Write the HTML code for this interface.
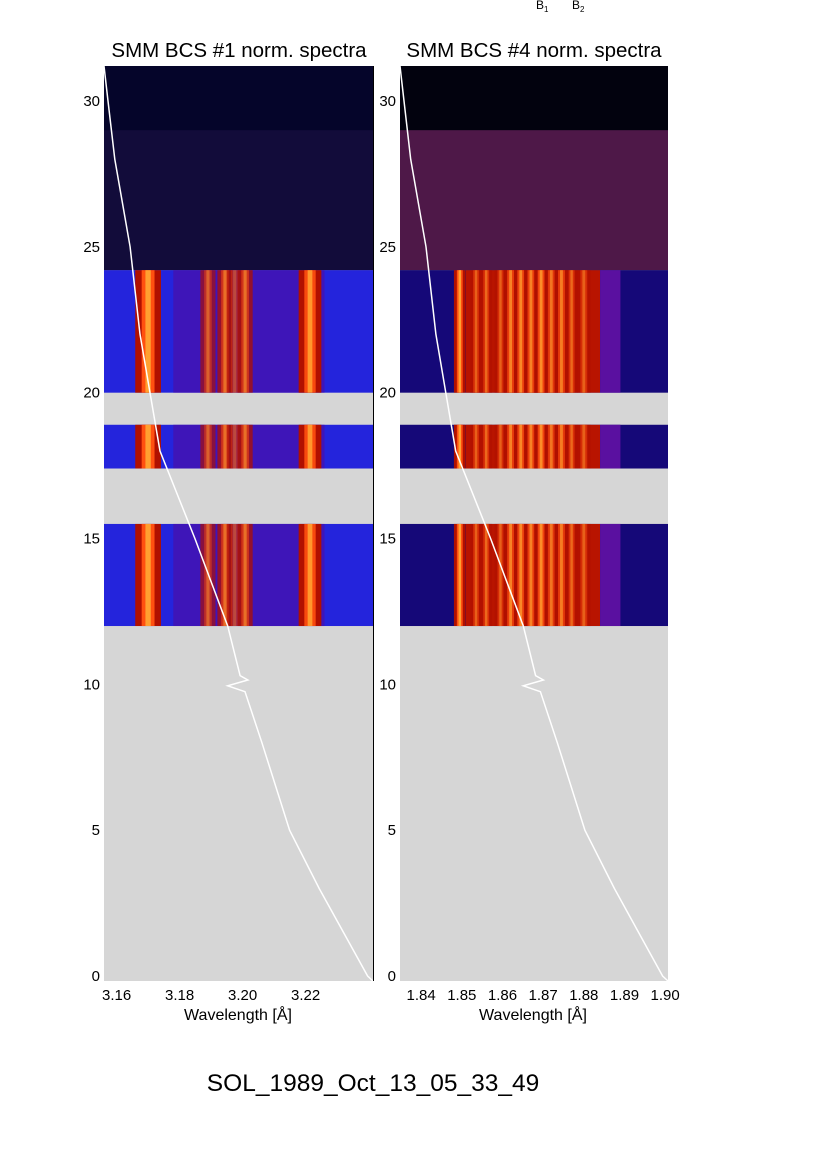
<!DOCTYPE html>
<html><head><meta charset="utf-8"><style>
html,body{margin:0;padding:0;background:#fff;}
svg{display:block;font-family:"Liberation Sans",sans-serif;}
</style></head><body>
<svg id="fig" width="826" height="1169" viewBox="0 0 826 1169" xmlns="http://www.w3.org/2000/svg">
<text x="536" y="9" font-size="12">B<tspan font-size="8" dy="3">1</tspan></text>
<text x="572" y="9" font-size="12">B<tspan font-size="8" dy="3">2</tspan></text>
<text x="239" y="57" font-size="20.5" text-anchor="middle">SMM BCS #1 norm. spectra</text>
<text x="534" y="57" font-size="20.5" text-anchor="middle">SMM BCS #4 norm. spectra</text>
<g id="left"></g>
<g id="right"></g>
<line x1="373.5" y1="66" x2="373.5" y2="981" stroke="#000" stroke-width="1"/>
<text x="238" y="1020" font-size="16" text-anchor="middle">Wavelength [Å]</text>
<text x="533" y="1020" font-size="16" text-anchor="middle">Wavelength [Å]</text>
<text x="373" y="1091" font-size="24.5" text-anchor="middle">SOL_1989_Oct_13_05_33_49</text>
</svg>
<script>
// Y axis (time) data
const yTicks = [0, 5, 10, 15, 20, 25, 30];
const yMin = -0.17, yMax = 31.2;
// Observed data bands [start, end] in y units
const bandStarts = [12.0, 17.4, 20.0];
const bandEnds = [15.5, 18.9, 24.2];
const noiseStart = 24.2, noiseEnd = 29.0;
// Light curve (white line): y values and fraction of wavelength span
const curveY = [31.2, 30, 28, 25, 22, 20, 18, 15, 12, 10.3, 10.15, 9.95, 9.75, 8, 5, 3, 0, -0.17];
const curveFrac = [0, 0.015, 0.04, 0.097, 0.134, 0.171, 0.208, 0.338, 0.46, 0.506, 0.535, 0.46, 0.524, 0.587, 0.69, 0.8, 0.98, 1.0];
// Left panel
const leftTicks = [3.16, 3.18, 3.20, 3.22];
const leftRange = [3.1560, 3.2414];
const leftLines = [3.1700, 3.1890, 3.1944, 3.1975, 3.2008, 3.2214];
const leftStrength = [1.0, 0.45, 0.55, 0.3, 0.55, 0.9];
const leftWidth = [0.0034, 0.002, 0.002, 0.002, 0.002, 0.003];
// Right panel
const rightTicks = [1.84, 1.85, 1.86, 1.87, 1.88, 1.89, 1.90];
const rightRange = [1.8348, 1.9007];
const rightLines = [1.8495, 1.8535, 1.8560, 1.8595, 1.8620, 1.8645, 1.8670, 1.8695, 1.8720, 1.8745, 1.8770, 1.8800];
const rightStrength = [1.0, 0.45, 0.5, 0.45, 0.7, 0.75, 0.7, 0.8, 0.6, 0.65, 0.5, 0.45];
const rightWidth = [0.0012, 0.0012, 0.0012, 0.0012, 0.0014, 0.0014, 0.0014, 0.0014, 0.0014, 0.0014, 0.0012, 0.0014];
const rightBroad = [1.8510, 1.8840];

const NS = "http://www.w3.org/2000/svg";
const plotTop = 66, plotBottom = 981;
function yScale(v){ return plotTop + (yMax - v) / (yMax - yMin) * (plotBottom - plotTop); }
function mk(tag, attrs, parent){ const e = document.createElementNS(NS, tag); for (const k in attrs) e.setAttribute(k, attrs[k]); parent.appendChild(e); return e; }

function drawPanel(g, x0, x1, range, ticks, lines, strength, width, broad, dec, isRight){
  const xs = v => x0 + (v - range[0]) / (range[1] - range[0]) * (x1 - x0);
  const bg = mk('rect', {x:x0, y:plotTop, width:x1-x0, height:plotBottom-plotTop, fill:'#d6d6d6'}, g);
  
  
  const dark = mk('rect', {x:x0, y:plotTop, width:x1-x0, height:yScale(noiseStart)-plotTop, fill: isRight ? '#02020e' : '#05052a'}, g);
  
  
  const noise = mk('rect', {x:x0, y:yScale(noiseEnd), width:x1-x0, height:yScale(noiseStart)-yScale(noiseEnd), fill: isRight ? '#4e1848' : '#120c3a'}, g);
  
  
  for (let b = 0; b < bandStarts.length; b++){
    const yt = yScale(bandEnds[b]), yb = yScale(bandStarts[b]);
    const band = mk('g', {}, g);
    
    
    mk('rect', {x:x0, y:yt, width:x1-x0, height:yb-yt, fill: isRight ? '#150878' : '#2424dc'}, band);
    if (broad){
      mk('rect', {x:xs(broad[0]), y:yt, width:xs(broad[1])-xs(broad[0]), height:yb-yt, fill:'#b81400'}, band);
      mk('rect', {x:xs(broad[1]), y:yt, width:xs(broad[1]+0.005)-xs(broad[1]), height:yb-yt, fill:'#5a10a0'}, band);
    } else {
      mk('rect', {x:xs(3.178), y:yt, width:xs(3.226)-xs(3.178), height:yb-yt, fill:'#4a10a8', opacity:0.7}, band);
    }
    for (let i = 0; i < lines.length; i++){
      const c = lines[i], w = width[i], s = strength[i];
      const outer = mk('rect', {x:xs(c - w*1.2), y:yt, width:xs(c + w*1.2)-xs(c - w*1.2), height:yb-yt, fill:'#b01000', opacity:Math.min(1, s+0.2)}, band);
      
      
      mk('rect', {x:xs(c - w*0.6), y:yt, width:xs(c + w*0.6)-xs(c - w*0.6), height:yb-yt, fill:'#ff5010', opacity:s}, band);
      mk('rect', {x:xs(c - w*0.25), y:yt, width:xs(c + w*0.25)-xs(c - w*0.25), height:yb-yt, fill:'#ffa030', opacity:s}, band);
    }
  }
  const pts = curveY.map((v, i) => (x0 + curveFrac[i]*(x1-x0)).toFixed(1) + ',' + yScale(v).toFixed(1)).join(' ');
  const curve = mk('polyline', {points:pts, fill:'none', stroke:'#fff', 'stroke-width':1.5}, g);
  
  
  yTicks.forEach(t => {
    const lbl = mk('text', {x:x0-4, y:yScale(t)+5, 'font-size':15, 'text-anchor':'end'}, g);
    lbl.textContent = t;
    
    
  });
  ticks.forEach(t => {
    const lbl = mk('text', {x:xs(t), y:1000, 'font-size':15, 'text-anchor':'middle'}, g);
    lbl.textContent = t.toFixed(dec);
    
    
  });
}
drawPanel(document.getElementById('left'), 104, 373, leftRange, leftTicks, leftLines, leftStrength, leftWidth, null, 2, false);
drawPanel(document.getElementById('right'), 400, 668, rightRange, rightTicks, rightLines, rightStrength, rightWidth, rightBroad, 2, true);
</script>
</body></html>
